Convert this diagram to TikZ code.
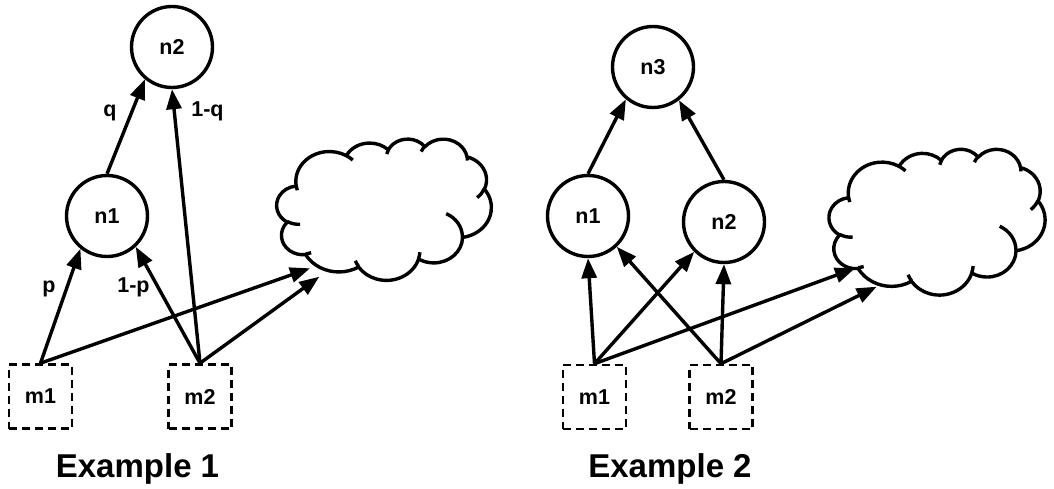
\documentclass[tikz,border=0pt]{standalone}
\usepackage{fontspec}
\setmainfont{Liberation Sans}
\usetikzlibrary{arrows.meta}
\newcommand{\lab}{\bfseries\fontsize{21.5}{24}\selectfont}
\newcommand{\ttl}{\bfseries\fontsize{33}{38}\selectfont}
\newcommand{\cloudshape}{%
  \draw[cloudline] (39.00,143.70)
    arc[start angle=172.255, delta angle=128.115, x radius=67.53, y radius=91.90]
    arc[start angle=-152.03, delta angle=106.58, x radius=53.33, y radius=72.67]
    arc[start angle=-153.48, delta angle=116.16, x radius=43.65, y radius=59.45]
    arc[start angle=-139.70, delta angle=129.49, x radius=48.57, y radius=65.95]
    arc[start angle=-74.77, delta angle=97.98, x radius=53.33, y radius=72.73]
    arc[start angle=-37.53, delta angle=119.39, x radius=67.75, y radius=92.20]
    arc[start angle=0.4597, delta angle=121.52, x radius=57.85, y radius=78.67]
    arc[start angle=16.84, delta angle=129.39, x radius=67.52, y radius=92.15]
    arc[start angle=58.99, delta angle=91.20, x radius=77.20, y radius=105.43]
    arc[start angle=83.31, delta angle=139.81, x radius=43.60, y radius=59.18]
    arc[start angle=120.36, delta angle=143.75, x radius=43.45, y radius=59.45]
    -- cycle;
  \draw[cloudline] (46.93,261.77) arc[start angle=85.546, delta angle=34.81, x radius=43.45, y radius=59.45];
  \draw[cloudline] (69.28,348.99) arc[start angle=68.23, delta angle=15.08, x radius=43.60, y radius=59.18];
  \draw[cloudline] (164.78,390.90) arc[start angle=146.23, delta angle=12.24, x radius=67.52, y radius=92.15];
  \draw[cloudline] (288.27,347.51) arc[start angle=4.738, delta angle=12.10, x radius=67.52, y radius=92.15];
  \draw[cloudline] (341.29,229.54) arc[start angle=-64.03, delta angle=64.49, x radius=57.85, y radius=78.67];
  \draw[cloudline] (417.98,153.54) arc[start angle=23.21, delta angle=26.43, x radius=53.33, y radius=72.73];
  \draw[cloudline] (383.24,54.26) arc[start angle=-10.21, delta angle=11.03, x radius=48.57, y radius=65.95];
  \draw[cloudline] (290.78,39.52) arc[start angle=-156.28, delta angle=16.58, x radius=48.57, y radius=65.95];
  \draw[cloudline] (221.41,47.20) arc[start angle=-167.73, delta angle=15.38, x radius=43.65, y radius=59.45];
  \draw[cloudline] (140.00,51.92) arc[start angle=-59.63, delta angle=13.89, x radius=67.53, y radius=91.90];
  \draw[cloudline] (41.27,157.89) arc[start angle=163.19, delta angle=9.06, x radius=67.53, y radius=91.90];
}
\tikzset{
  circ/.style={circle, draw, line width=3.4pt, minimum size=81pt, inner sep=0pt, font=\lab},
  dbox/.style={draw, dash pattern=on 8pt off 5pt, line width=2.6pt, minimum width=63pt, minimum height=64pt, inner sep=0pt, font=\lab},
  arr/.style={-{Triangle[length=20pt,width=15pt]}, line width=3.4pt},
  elab/.style={font=\lab, anchor=base, inner sep=0pt},
  title/.style={font=\ttl, anchor=base, inner sep=0pt},
  cloudline/.style={line width=3.4pt, line join=round}
}
\begin{document}
\begin{tikzpicture}[x=1pt, y=-1pt]
\useasboundingbox (0,0) rectangle (1054,489);
% ---------- Example 1 ----------
\node[circ] (a2) at (172,47) {n2};
\node[circ] (a1) at (107,216) {n1};
\node[dbox] (am1) at (40.5,396.5) {m1};
\node[dbox] (am2) at (200,396.5) {m2};
\begin{scope}[shift={(276.76,138.64)}, x=0.49659pt, y=-0.32693pt]
  \cloudshape
\end{scope}
\coordinate (c1a) at (310,268.3);
\coordinate (c1b) at (319.3,276.7);
\draw[arr] (a1.north) -- (a2.-130);
\draw[arr] (am2.north) -- (a2.south);
\draw[arr] (am1.north) -- (a1.-129);
\draw[arr] (am2.north) -- (a1.-47);
\draw[arr] (am1.north) -- (c1a);
\draw[arr] (am2.north) -- (c1b);
\node[elab] (lq) at (110,116.7) {q};
\node[elab] (l1q) at (207.5,116.7) {1-q};
\node[elab] (lp) at (49,292) {p};
\node[elab] (l1p) at (133.5,292) {1-p};
\node[title] (t1) at (137.5,477) {Example 1};
% ---------- Example 2 ----------
\node[circ] (b3) at (653,67) {n3};
\node[circ] (b1) at (588,216) {n1};
\node[circ] (b2) at (724,222) {n2};
\node[dbox] (bm1) at (594.5,397) {m1};
\node[dbox] (bm2) at (721,397) {m2};
\begin{scope}[shift={(829.06,148.82)}, x=0.49983pt, y=-0.33734pt]
  \cloudshape
\end{scope}
\coordinate (c2a) at (855,268.3);
\coordinate (c2b) at (876.7,286.7);
\draw[arr] (b1.north) -- (b3.-130);
\draw[arr] (b2.north) -- (b3.-52);
\draw[arr] (bm1.north) -- (b1.south);
\draw[arr] (bm1.north) -- (b2.-135);
\draw[arr] (bm2.north) -- (b1.-47);
\draw[arr] (bm2.north) -- (b2.south);
\draw[arr] (bm1.north) -- (c2a);
\draw[arr] (bm2.north) -- (c2b);
\node[title] (t2) at (670,477) {Example 2};
\end{tikzpicture}
\end{document}
